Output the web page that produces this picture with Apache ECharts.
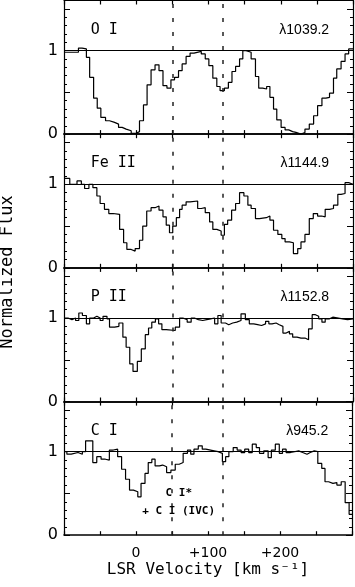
<!DOCTYPE html>
<html><head><meta charset="utf-8">
<script src="https://cdn.jsdelivr.net/npm/echarts@6/dist/echarts.min.js"></script>
<style>html,body{margin:0;padding:0;background:#fff}#c{width:355px;height:587px}</style>
</head><body><div id="c"></div>
<script>
// ---- data ----
const velocityRange = [-100, 300];
const xTickLabels = {0: '0', 100: '+100', 200: '+200'};
const yTickLabels = {0: '0', 1: '1'};
const ionLabels = ['O I', 'Fe II', 'P II', 'C I'];
const wavelengthLabels = ['λ1039.2', 'λ1144.9', 'λ1152.8', 'λ945.2'];
const componentVelocities = [50, 120];
const continuumLevel = 1;
const annotationLines = ['C I*', '+ C I (IVC)'];
const xTitle = 'LSR Velocity [km s⁻¹]';
const yTitle = 'Normalized Flux';

// [bin start velocity (km/s), normalized flux]
const oI = [[-100,0.98],[-80,1.03],[-75,1.02],[-69,0.92],[-64.5,0.68],[-59,0.43],[-54,0.31],[-49,0.20],[-42.5,0.16],[-37,0.14],[-30,0.12],[-24.5,0.08],[-19.5,0.06],[-14,0.04],[-7,0.01],[0,0.03],[4.5,0.16],[10,0.35],[15,0.59],[20.5,0.77],[26,0.83],[31.5,0.76],[37,0.58],[42.5,0.55],[48,0.65],[53,0.68],[58.5,0.76],[63.5,0.84],[69,0.93],[74.5,0.97],[80,0.99],[90,0.96],[95.5,0.90],[100.5,0.82],[106,0.67],[111.5,0.57],[116,0.52],[122,0.55],[127.5,0.62],[132.5,0.75],[137.5,0.81],[143,0.90],[147.5,1.00],[152,0.98],[159,0.90],[165,0.69],[169.5,0.55],[175,0.54],[180.5,0.57],[185,0.44],[190,0.30],[194.5,0.17],[200.5,0.08],[206,0.05],[211,0.03],[216.5,0.02],[221,0.00],[228,0.02],[233.5,0.06],[239.5,0.12],[245.5,0.22],[251,0.34],[257,0.43],[262.5,0.44],[267.5,0.49],[273,0.67],[277.5,0.78],[283.5,0.87],[289,0.96],[294,1.02]];
const feII = [[-100,1.07],[-92,1.0],[-82,1.04],[-76,1.0],[-71.5,0.95],[-65.5,1.0],[-60,0.96],[-54.5,0.86],[-50,0.77],[-44,0.70],[-38,0.65],[-32,0.64],[-23,0.46],[-17.5,0.30],[-13,0.22],[-7,0.20],[-1.5,0.23],[4.5,0.33],[9,0.50],[14.5,0.68],[20.5,0.72],[26,0.74],[31.5,0.69],[37,0.61],[41.5,0.51],[46,0.42],[50.5,0.50],[55.5,0.60],[60,0.70],[63.5,0.75],[69,0.79],[74.5,0.80],[85,0.71],[90,0.72],[95.5,0.66],[101.5,0.55],[106,0.46],[111.5,0.44],[117.5,0.39],[122,0.52],[126.5,0.57],[132,0.69],[137.5,0.77],[143,0.90],[149,0.86],[154.5,0.75],[159,0.71],[165,0.59],[170.5,0.60],[180,0.62],[185,0.57],[190,0.45],[196,0.40],[201.5,0.35],[206,0.31],[212,0.30],[217.5,0.17],[223.5,0.23],[228,0.31],[233.5,0.40],[239.5,0.59],[245,0.65],[251,0.62],[256.5,0.61],[261.5,0.70],[267.5,0.71],[273,0.75],[279,0.88],[283.5,0.89],[289,1.02],[294,1.0]];
const pII = [[-100,1.0],[-94.5,0.98],[-89,1.0],[-84,0.97],[-79.5,1.06],[-74.5,1.03],[-69,0.93],[-64.5,1.0],[-59,1.02],[-54.5,1.0],[-50,0.97],[-46,1.02],[-40.5,0.99],[-37,0.89],[-30,0.90],[-24,0.94],[-18.5,0.77],[-14,0.65],[-9,0.45],[-4.5,0.36],[1.5,0.48],[7,0.63],[12.5,0.80],[17,0.88],[21.5,0.95],[26.5,0.99],[31,0.93],[35.5,0.86],[41.5,0.85],[54,0.89],[60,1.0],[64.5,0.98],[70.5,0.95],[76,1.0],[80.5,0.98],[86,0.97],[92,0.98],[97.5,0.99],[103,1.0],[108.5,0.93],[113,1.03],[117.5,0.94],[123.5,0.92],[128,0.94],[133.5,0.95],[139,0.97],[145,1.05],[151,0.98],[156.5,0.93],[162.5,0.92],[168,0.91],[173.5,0.93],[179,0.96],[183.5,0.93],[188,0.94],[193.5,0.92],[198,0.90],[203,0.82],[207.5,0.84],[212,0.81],[216.5,0.77],[222.5,0.76],[228,0.76],[233.5,0.74],[238.5,0.87],[243.5,1.04],[248,1.02],[252.5,0.99],[257,0.95],[261.5,0.99],[267.5,1.01],[272,0.99],[285.5,0.98],[292.5,0.99]];
const cI = [[-100,1.0],[-96,0.97],[-90,0.99],[-80.5,0.97],[-74.5,1.0],[-70,1.13],[-60,0.87],[-54.5,0.94],[-48.5,0.91],[-42.5,0.90],[-37,1.02],[-31.5,1.03],[-25.5,0.94],[-20,0.79],[-14.5,0.67],[-9,0.54],[-3.5,0.52],[2.5,0.46],[7,0.62],[12.5,0.74],[17,0.87],[22,0.91],[26.5,0.83],[32.5,0.84],[37,0.82],[42.5,0.75],[48.5,0.78],[54.5,0.85],[60,0.87],[65.5,0.98],[71.5,1.02],[76,0.97],[80.5,1.03],[86.5,1.07],[92,1.03],[97,1.01],[108.5,1.0],[114,0.98],[120,0.88],[124.5,0.94],[129,1.0],[135,1.05],[140.5,1.02],[146,0.99],[151,1.03],[156.5,0.99],[161.5,1.09],[167,1.05],[171.5,0.98],[177.5,1.01],[183.5,0.93],[188,1.02],[193.5,1.09],[199,0.98],[203.5,1.03],[208.5,0.99],[214.5,1.01],[226,0.99],[231.5,0.97],[237.5,0.99],[242,1.01],[247.5,1.0],[252.5,0.86],[258,0.80],[262.5,0.64],[267.5,0.62],[273.5,0.63],[279,0.60],[285,0.64],[290.5,0.39],[296,0.25]];

// label anchor positions in data coordinates (velocity, flux)
const ionLabelAt = [-63, 1.25];
const waveLabelAt = [267, 1.25];
const annotationAt = [[41, 0.50], [8.7, 0.29]];

// ---- chart ----
const panels = [oI, feII, pII, cI];
const N = panels.length;
const TOP0 = 0.5, STEP = 133.7, H = 133.6;
const grids = [], xAxes = [], yAxes = [], series = [];
const MONO = 'DejaVu Sans Mono';

for (let i = 0; i < N; i++) {
  grids.push({left: 64, width: 289, top: TOP0 + STEP * i, height: H});
  const xBase = {
    gridIndex: i, type: 'value', min: velocityRange[0], max: velocityRange[1], interval: 50,
    splitLine: {show: false},
    axisTick: {show: true, inside: true, length: 4, lineStyle: {color: '#000', width: 1.2}}
  };
  xAxes.push(Object.assign({}, xBase, {
    position: 'bottom',
    axisLine: {show: true, onZero: false, lineStyle: {color: '#000', width: 1.6}},
    axisLabel: {show: i === N - 1, margin: 11, color: '#000', fontFamily: 'DejaVu Sans', fontSize: 14,
      formatter: v => (xTickLabels[v] !== undefined ? xTickLabels[v] : '')},
    name: i === N - 1 ? xTitle : '', nameLocation: 'middle', nameGap: 27,
    nameTextStyle: {fontFamily: MONO, fontSize: 16, color: '#000'}
  }));
  xAxes.push(Object.assign({}, xBase, {
    position: 'top',
    axisLine: {show: true, onZero: false, lineStyle: {color: '#000', width: i === 0 ? 1 : 1.6}},
    axisLabel: {show: false}
  }));
  const yBase = {gridIndex: i, type: 'value', min: 0, max: 1.6, splitLine: {show: false}};
  yAxes.push(Object.assign({}, yBase, {
    position: 'left', interval: 0.5,
    axisLine: {show: true, onZero: false, lineStyle: {color: '#000', width: 1.2}},
    axisTick: {show: true, inside: true, length: 6, lineStyle: {color: '#000', width: 1}},
    axisLabel: {show: true, margin: 6, color: '#000', fontFamily: 'DejaVu Sans', fontSize: 16,
      formatter: v => (yTickLabels[Math.round(v * 100) / 100] !== undefined && Math.abs(v - Math.round(v)) < 1e-6 ? yTickLabels[Math.round(v)] : '')}
  }));
  yAxes.push(Object.assign({}, yBase, {
    position: 'left', interval: 0.1,
    axisLine: {show: false, onZero: false},
    axisTick: {show: true, inside: true, length: 3, lineStyle: {color: '#000', width: 1}},
    axisLabel: {show: false}
  }));
  yAxes.push(Object.assign({}, yBase, {
    position: 'right', interval: 0.5,
    axisLine: {show: true, onZero: false, lineStyle: {color: '#000', width: 1.2}},
    axisTick: {show: true, inside: true, length: 6, lineStyle: {color: '#000', width: 1}},
    axisLabel: {show: false}
  }));
  yAxes.push(Object.assign({}, yBase, {
    position: 'right', interval: 0.1,
    axisLine: {show: false, onZero: false},
    axisTick: {show: true, inside: true, length: 3, lineStyle: {color: '#000', width: 1}},
    axisLabel: {show: false}
  }));
  const d = panels[i];
  series.push({
    type: 'line', xAxisIndex: 2 * i, yAxisIndex: 4 * i,
    data: d.concat([[velocityRange[1], d[d.length - 1][1]]]),
    step: 'end', symbol: 'none', showSymbol: false, animation: false, z: 3,
    lineStyle: {color: '#000', width: 1.2},
    markLine: {
      silent: true, animation: false, symbol: ['none', 'none'], label: {show: false},
      lineStyle: {color: '#222', width: 1.5, type: [4, 10]},
      data: [
        {yAxis: continuumLevel, lineStyle: {type: 'solid', width: 1, color: '#000'}},
        ...componentVelocities.map(v => ({xAxis: v}))
      ]
    }
  });
}

const chart = echarts.init(document.getElementById('c'));
chart.setOption({
  animation: false, backgroundColor: '#fff',
  grid: grids, xAxis: xAxes, yAxis: yAxes, series: series
});

const graphics = [];
for (let i = 0; i < N; i++) {
  const p1 = chart.convertToPixel({seriesIndex: i}, ionLabelAt);
  graphics.push({type: 'text', x: p1[0], y: p1[1], z: 10,
    style: {text: ionLabels[i], fontFamily: MONO, fontSize: 15, fill: '#000', align: 'left', verticalAlign: 'middle'}});
  const p2 = chart.convertToPixel({seriesIndex: i}, waveLabelAt);
  graphics.push({type: 'text', x: p2[0], y: p2[1], z: 10,
    style: {text: wavelengthLabels[i], fontFamily: 'Liberation Sans', fontSize: 14, fill: '#000', align: 'right', verticalAlign: 'middle'}});
}
annotationLines.forEach((t, k) => {
  const p = chart.convertToPixel({seriesIndex: N - 1}, annotationAt[k]);
  graphics.push({type: 'text', x: p[0], y: p[1], z: 10,
    style: {text: t, fontFamily: MONO, fontSize: 11, fontWeight: 'bold', fill: '#000', align: 'left', verticalAlign: 'middle'}});
});
graphics.push({type: 'text', x: 8, y: 272, rotation: Math.PI / 2, z: 10,
  style: {text: yTitle, fontFamily: MONO, fontSize: 17, fill: '#000', align: 'center', verticalAlign: 'middle'}});
chart.setOption({graphic: graphics});
</script>
</body></html>
